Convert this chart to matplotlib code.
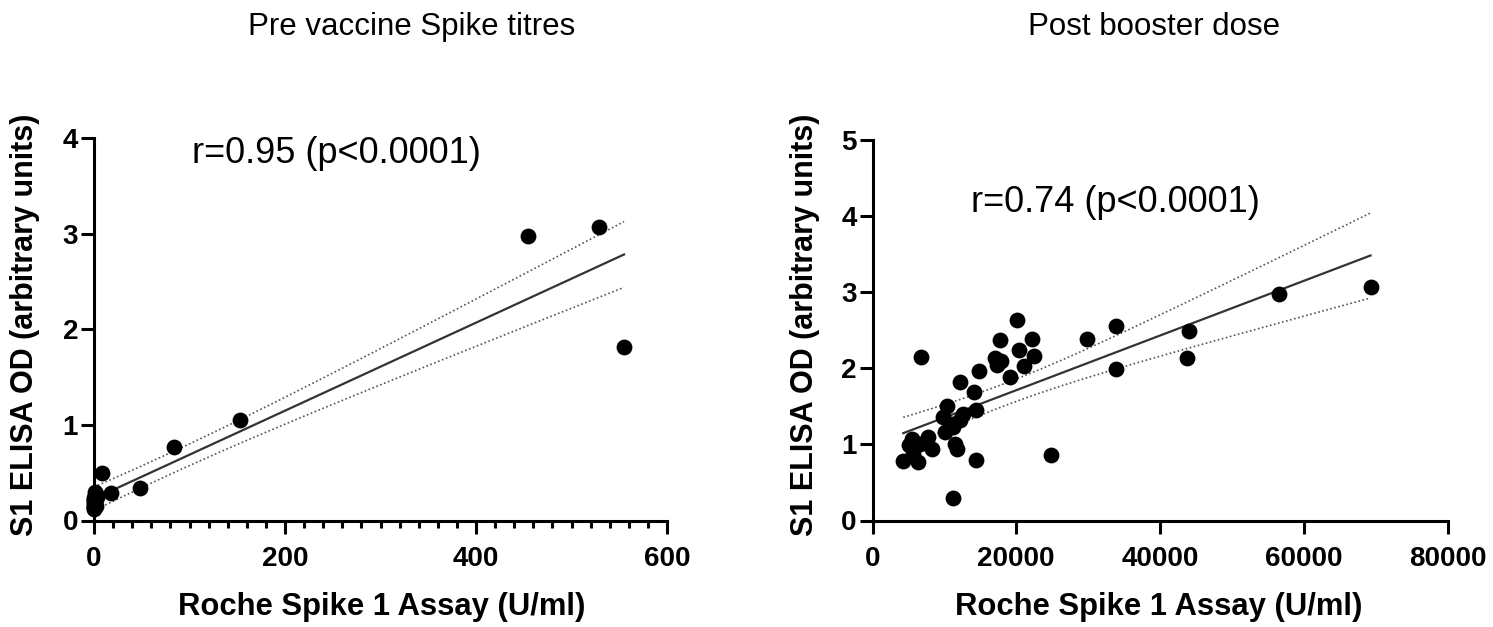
import numpy as np
import matplotlib
matplotlib.use("Agg")
from matplotlib import pyplot as plt
from matplotlib.ticker import MultipleLocator

plt.rcParams['font.family'] = ['Liberation Sans', 'DejaVu Sans']

# 接种前数据 (Roche U/ml, ELISA OD), 0附近有许多重叠点
pre_x = [0, 1, 0, 2, 1, 0, 1, 0, 2, 0, 1, 0, 3, 0, 1, 2, 0,
         8, 18, 48, 84, 153, 454, 529, 555]
pre_y = [0.12, 0.17, 0.22, 0.26, 0.30, 0.14, 0.19, 0.24, 0.28, 0.13, 0.21,
         0.16, 0.25, 0.18, 0.27, 0.15, 0.20,
         0.50, 0.29, 0.34, 0.77, 1.05, 2.97, 3.07, 1.81]

# 加强针后数据
post_x = [20050, 17730, 22140, 20370, 22500, 17040, 17830, 17270, 21070, 19120,
          14850, 6700, 12170, 14120, 10320, 14390, 12630, 9760, 11010, 12170,
          10080, 11240, 5450, 7760, 11470, 11710, 5120, 6610, 8230, 4280,
          6370, 5630, 14390, 24830, 11240, 29870, 33870, 33870, 43980, 43780,
          56540, 69290]
post_y = [2.64, 2.37, 2.38, 2.24, 2.16, 2.13, 2.10, 2.04, 2.03, 1.89,
          1.97, 2.15, 1.82, 1.69, 1.51, 1.45, 1.40, 1.36, 1.27, 1.32,
          1.16, 1.23, 1.07, 1.10, 1.01, 0.94, 0.99, 1.01, 0.94, 0.78,
          0.77, 0.88, 0.79, 0.86, 0.29, 2.39, 2.55, 1.99, 2.49, 2.14,
          2.98, 3.07]

W, H = 1493, 627


def fit_plot(ax, xs, ys):
    xs = np.array(xs, dtype=float)
    ys = np.array(ys, dtype=float)
    n = len(xs)
    b, a = np.polyfit(xs, ys, 1)
    xx = np.linspace(xs.min(), xs.max(), 100)
    yy = a + b * xx
    # 95% 置信带
    res = ys - (a + b * xs)
    s = np.sqrt(np.sum(res ** 2) / (n - 2))
    sxx = np.sum((xs - xs.mean()) ** 2)
    t = 1.96 + 2.4 / (n - 2)
    ci = t * s * np.sqrt(1.0 / n + (xx - xs.mean()) ** 2 / sxx)
    ax.plot(xx, yy, color='#333333', lw=1.6, zorder=2)
    ax.plot(xx, yy + ci, color='#555555', lw=1.2, ls=(0, (1, 1.5)), zorder=2)
    ax.plot(xx, yy - ci, color='#555555', lw=1.2, ls=(0, (1, 1.5)), zorder=2)
    ax.scatter(xs, ys, s=130, color='black', zorder=3, clip_on=False, linewidths=0)


def style(ax):
    for side in ['top', 'right']:
        ax.spines[side].set_visible(False)
    for side in ['left', 'bottom']:
        ax.spines[side].set_linewidth(2.2)
    ax.tick_params(axis='both', which='major', width=2.2, labelsize=20, direction='out')
    ax.tick_params(axis='x', which='major', length=9.5, pad=9)
    ax.tick_params(axis='y', which='major', length=9.5, pad=2)
    ax.tick_params(axis='x', which='minor', length=5, width=2.2)
    for lab in ax.get_xticklabels() + ax.get_yticklabels():
        lab.set_fontweight('bold')


fig = plt.figure(figsize=(W / 100, H / 100), dpi=100)

# 左图
ax1 = fig.add_axes([94 / W, 1 - 520.5 / H, (667 - 94) / W, (520.5 - 138) / H])
fit_plot(ax1, pre_x, pre_y)
ax1.set_xlim(0, 600)
ax1.set_ylim(0, 4)
ax1.set_xticks([0, 200, 400, 600])
ax1.xaxis.set_minor_locator(MultipleLocator(20))
ax1.set_yticks([0, 1, 2, 3, 4])
style(ax1)

# 右图
ax2 = fig.add_axes([872.5 / W, 1 - 520.5 / H, (1447.5 - 872.5) / W, (520.5 - 140) / H])
fit_plot(ax2, post_x, post_y)
ax2.set_xlim(0, 80000)
ax2.set_ylim(0, 5)
ax2.set_xticks([0, 20000, 40000, 60000, 80000])
ax2.set_yticks([0, 1, 2, 3, 4, 5])
style(ax2)

# 文字
fig.text(412 / W, 1 - 27 / H, 'Pre vaccine Spike titres', fontsize=22.5, ha='center', va='center')
fig.text(1154 / W, 1 - 27 / H, 'Post booster dose', fontsize=22.5, ha='center', va='center')
fig.text(336 / W, 1 - 153 / H, 'r=0.95 (p<0.0001)', fontsize=26, ha='center', va='center')
fig.text(1115 / W, 1 - 202 / H, 'r=0.74 (p<0.0001)', fontsize=26, ha='center', va='center')
fig.text(382 / W, 1 - 607 / H, 'Roche Spike 1 Assay (U/ml)', fontsize=22.3, fontweight='bold',
         ha='center', va='center')
fig.text(1159 / W, 1 - 607 / H, 'Roche Spike 1 Assay (U/ml)', fontsize=22.3, fontweight='bold',
         ha='center', va='center')
fig.text(25 / W, 1 - 325 / H, 'S1 ELISA OD (arbitrary units)', fontsize=22, fontweight='bold',
         ha='center', va='center', rotation=90)
fig.text(805 / W, 1 - 325 / H, 'S1 ELISA OD (arbitrary units)', fontsize=22, fontweight='bold',
         ha='center', va='center', rotation=90)

fig.savefig('out.png', dpi=100)
